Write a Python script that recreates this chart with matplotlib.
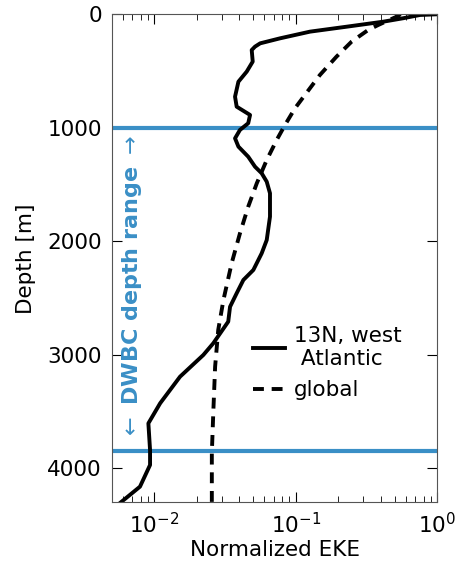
import matplotlib
matplotlib.use("Agg")
import matplotlib.pyplot as plt

# 13N, west Atlantic profile (normalized EKE vs depth in m)
west_depth = [0, 6, 35, 65, 109, 153, 212, 256, 285, 315, 417, 505, 594, 726, 814,
              887, 960, 1019, 1093, 1166, 1255, 1343, 1401, 1475, 1577, 1783, 1989,
              2106, 2253, 2341, 2458, 2577, 2708, 2899, 3002, 3193, 3427, 3604, 3839,
              3971, 4162, 4300]
west_eke = [1.0, 0.755, 0.573, 0.416, 0.23, 0.126, 0.0773, 0.056, 0.0515, 0.0488,
            0.0496, 0.045, 0.0393, 0.0372, 0.0382, 0.0475, 0.0461, 0.0403, 0.0372,
            0.0393, 0.0461, 0.0515, 0.0574, 0.0623, 0.0657, 0.0657, 0.0623, 0.0574,
            0.0501, 0.0426, 0.0382, 0.0343, 0.0333, 0.0261, 0.0222, 0.0152, 0.0110,
            0.00908, 0.00933, 0.00933, 0.00792, 0.0058]

# global mean profile
glob_depth = [0, 21, 94, 138, 241, 373, 535, 711, 828, 975, 1107, 1284, 1489, 1695,
              1930, 2194, 2517, 2781, 3105, 3515, 3868, 4300]
glob_eke = [0.55, 0.516, 0.383, 0.325, 0.248, 0.194, 0.148, 0.116, 0.0987, 0.0839,
            0.0733, 0.0623, 0.053, 0.0461, 0.0403, 0.0352, 0.0308, 0.0283, 0.0269,
            0.0261, 0.0255, 0.0255]

dwbc_range = [1000, 3850]
blue = '#3a8fc6'

plt.rcParams['font.size'] = 15.5
fig = plt.figure(figsize=(4.59, 5.69), dpi=100)
ax = fig.add_axes([0.2434, 0.1172, 0.7093, 0.8577])

for d in dwbc_range:
    ax.axhline(d, color=blue, lw=3)

ax.plot(west_eke, west_depth, color='k', lw=2.8, label='13N, west\n Atlantic')
ax.plot(glob_eke, glob_depth, color='k', lw=2.8, dashes=(2.8, 2.0), label='global')

# rotated label between the two DWBC lines
ax.text(0.062, 0.44, r'$\leftarrow$ DWBC depth range $\rightarrow$',
        transform=ax.transAxes, rotation=90, color=blue, fontweight='bold',
        fontsize=16, ha='center', va='center')

ax.set_xscale('log')
ax.set_xlim(0.005, 1)
ax.set_ylim(4300, 0)
ax.set_yticks([0, 1000, 2000, 3000, 4000])
ax.tick_params(which='both', direction='in', top=True, right=True, pad=7)
ax.tick_params(which='major', length=7)
ax.tick_params(which='minor', length=4)
for s in ax.spines.values():
    s.set_color('#555555')

ax.set_xlabel('Normalized EKE', labelpad=2)
ax.set_ylabel('Depth [m]', labelpad=8)

ax.legend(frameon=False, loc='center left', bbox_to_anchor=(0.375, 0.285),
          handlelength=1.5, handletextpad=0.4, labelspacing=0.5, fontsize=15.5)

fig.savefig('out.png', dpi=100)
